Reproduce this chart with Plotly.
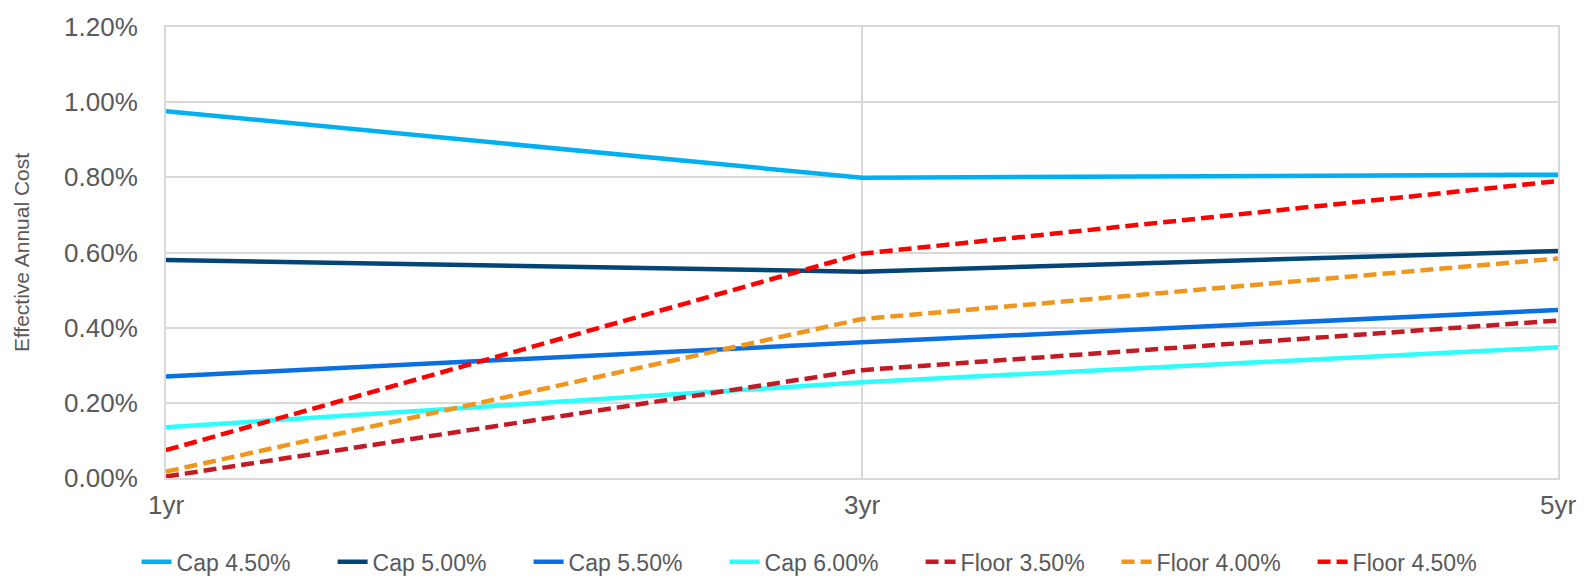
import plotly.graph_objects as go

terms = [1, 3, 5]
term_labels = ["1yr", "3yr", "5yr"]

cap_450 = [0.976, 0.799, 0.807]
cap_500 = [0.580, 0.549, 0.604]
cap_550 = [0.270, 0.361, 0.447]
cap_600 = [0.135, 0.255, 0.348]
floor_350 = [0.004, 0.287, 0.419]
floor_400 = [0.017, 0.423, 0.584]
floor_450 = [0.074, 0.597, 0.790]

y_ticks = [0, 0.2, 0.4, 0.6, 0.8, 1.0, 1.2]
y_tick_labels = ["0.00%", "0.20%", "0.40%", "0.60%", "0.80%", "1.00%", "1.20%"]

series = [
    ("Cap 4.50%", cap_450, "#00B0F0", "solid"),
    ("Cap 5.00%", cap_500, "#034676", "solid"),
    ("Cap 5.50%", cap_550, "#0A6FE2", "solid"),
    ("Cap 6.00%", cap_600, "#2CFDFD", "solid"),
    ("Floor 3.50%", floor_350, "#C21B25", "13px,6px"),
    ("Floor 4.00%", floor_400, "#F0961C", "13px,6px"),
    ("Floor 4.50%", floor_450, "#FF0000", "13px,6px"),
]

fig = go.Figure()
for name, vals, color, dash in series:
    fig.add_trace(go.Scatter(
        x=terms, y=vals, name=name, mode="lines",
        line=dict(color=color, width=4.5, dash=dash),
    ))

grid = "#d9d9d9"
fig.update_layout(
    width=1588, height=578,
    margin=dict(l=166, r=28, t=21, b=100),
    paper_bgcolor="white", plot_bgcolor="white",
    font=dict(family="Liberation Sans, Arial, sans-serif", color="#595959"),
    showlegend=True,
    legend=dict(
        orientation="h", xref="container", yref="container",
        x=0.518, xanchor="center", y=0.028, yanchor="middle",
        font=dict(size=23, color="#595959"),
        entrywidth=151, entrywidthmode="pixels",
    ),
    xaxis=dict(
        range=[1, 5], tickvals=terms, ticktext=term_labels,
        showgrid=True, gridcolor=grid, gridwidth=2,
        showline=True, linecolor=grid, linewidth=2, mirror=True,
        zeroline=False, ticks="", tickfont=dict(size=26, color="#595959"),
        ticklabelstandoff=3,
    ),
    yaxis=dict(
        range=[0, 1.2], tickvals=y_ticks, ticktext=y_tick_labels,
        showgrid=True, gridcolor=grid, gridwidth=2,
        showline=True, linecolor=grid, linewidth=2, mirror=True,
        zeroline=False, ticks="", tickfont=dict(size=26, color="#595959"),
        ticklabelstandoff=21,
        title=dict(text="Effective Annual Cost", font=dict(size=21, color="#595959"), standoff=29),
    ),
)

fig.write_html("out.html")
